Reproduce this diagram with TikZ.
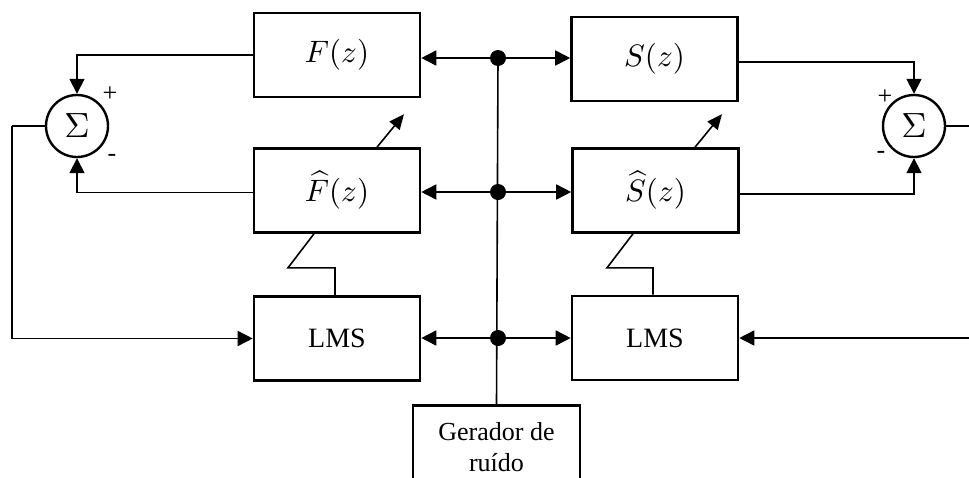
\documentclass[tikz,border=0pt]{standalone}
\usepackage{graphicx}
\usepackage{fontspec}
\setmainfont{Liberation Serif}
\usetikzlibrary{arrows.meta,calc}

% enlarged math for block labels (the math fonts come in fixed sizes)
\newcommand{\bigmath}[2]{\scalebox{#1}{\normalsize$#2$}}

\tikzset{
  block/.style={draw, line width=2.6pt, minimum width=166pt, minimum height=84pt,
    inner sep=0pt, font=\fontsize{26}{31}\selectfont, align=center},
  lms/.style={font=\fontsize{28}{32}\selectfont},
  sumnode/.style={draw, circle, line width=2.4pt, minimum size=62pt, inner sep=0pt},
  wire/.style={line width=1.6pt},
  arr/.style={wire, -{Triangle[length=15pt,width=15pt]}},
  adj/.style={wire, -{Triangle[length=15pt,width=13pt]}},
  junction/.style={circle, fill=black, minimum size=16pt, inner sep=0pt},
  sign/.style={font=\fontsize{26}{28}\selectfont, inner sep=0pt},
}

\begin{document}
\begin{tikzpicture}[x=1pt, y=-1pt]
\clip (0,0) rectangle (969,477);
\fill[white] (0,0) rectangle (969,477);

% blocks
\node[block] (F)   at (337,55)      {\bigmath{3.1}{F(z)}};
\node[block] (S)   at (654.5,59)    {\bigmath{3.1}{S(z)}};
\node[block] (Fh)  at (337,190.5)   {\bigmath{3.1}{\widehat{F}(z)}};
\node[block] (Sh)  at (655.5,190.5) {\bigmath{3.1}{\widehat{S}(z)}};
\node[block, lms] (LL)  at (337,338.5) {LMS};
\node[block, lms] (LR)  at (655,338)   {LMS};
\node[block, minimum width=167pt, anchor=north] (G) at (496.5,404)
  {Gerador de\\ruído};

% summing junctions
\node[sumnode] (SL) at (77,126)  {\bigmath{3.5}{\Sigma}};
\node[sumnode] (SR) at (914,126) {\bigmath{3.5}{\Sigma}};
\node[sign] (pL) at (110,94)  {+};
\node[sign] (mL) at (112,158) {-};
\node[sign] (pR) at (885,97)  {+};
\node[sign] (mR) at (881,155) {-};

% noise distribution points
\node[junction] (d1) at (498,58)  {};
\node[junction] (d2) at (498,192) {};
\node[junction] (d3) at (498,338) {};
\coordinate (inL)  at (12,126);
\coordinate (outR) at (969,126);
\coordinate (inR)  at (969,338);

% noise bus
\draw[wire] (d1.center) -- (G.north);
\draw[arr] (d1.center) -- (d1 -| F.east);
\draw[arr] (d1.center) -- (d1 -| S.west);
\draw[arr] (d2.center) -- (d2 -| Fh.east);
\draw[arr] (d2.center) -- (d2 -| Sh.west);
\draw[arr] (d3.center) -- (d3 -| LL.east);
\draw[arr] (d3.center) -- (d3 -| LR.west);

% left loop
\draw[arr] (F.west) -| (SL.north);
\draw[arr] ([yshift=-2pt]Fh.west) -| (SL.south);
\draw[wire] (SL.west) -- (inL);
\draw[arr] (inL) |- (LL.west);

% right loop
\draw[arr] ([yshift=-3pt]S.east) -| (SR.north);
\draw[arr] ([yshift=-3.5pt]Sh.east) -| (SR.south);
\draw[wire] (SR.east) -- (outR);
\draw[arr] (inR) -- (LR.east);

% adaptation links
\draw[wire] ([xshift=-23pt]Fh.south) -- ++(-26,34) -| ([xshift=-2pt]LL.north);
\draw[wire] ([xshift=-22.5pt]Sh.south) -- ++(-26,34) -| ([xshift=-2pt]LR.north);
\draw[adj] ([xshift=40pt]Fh.north) -- ++(27,-33);
\draw[adj] ([xshift=39.5pt]Sh.north) -- ++(27,-33);
\end{tikzpicture}
\end{document}
